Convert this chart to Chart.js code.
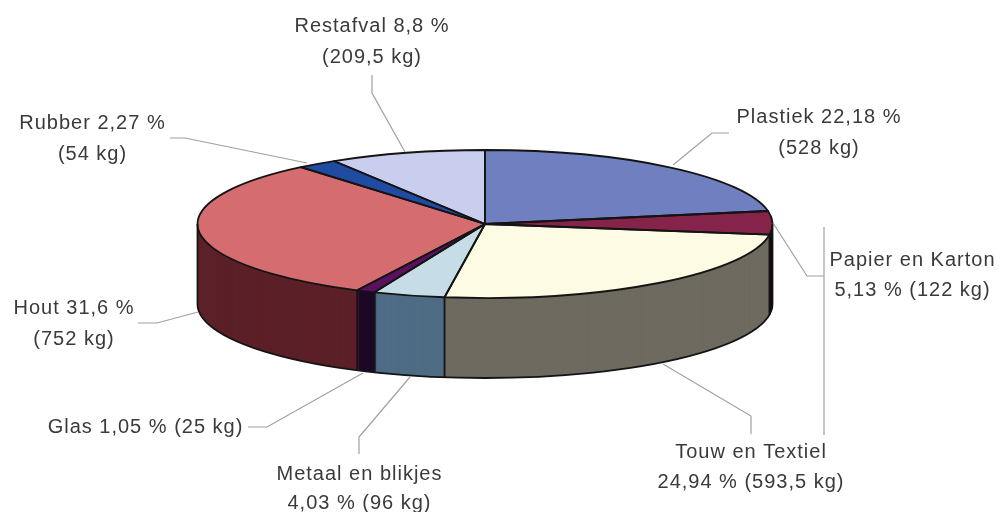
<!DOCTYPE html>
<html>
<head>
<meta charset="utf-8">
<style>html,body{margin:0;padding:0;background:#fff}canvas{display:block;filter:blur(0.4px)}</style>
<script src="https://cdn.jsdelivr.net/npm/chart.js@4"></script>
</head>
<body>
<canvas id="c" width="1001" height="512"></canvas>
<script>
const categories = ['Plastiek','Papier en Karton','Touw en Textiel','Metaal en blikjes','Glas','Hout','Rubber','Restafval'];
const kilograms = [528,122,593.5,96,25,752,54,209.5];
const labelFirstLines = ['Plastiek 22,18 %','Papier en Karton','Touw en Textiel','Metaal en blikjes','Glas 1,05 % (25 kg)','Hout 31,6 %','Rubber 2,27 %','Restafval 8,8 %'];
const labelSecondLines = ['(528 kg)','5,13 % (122 kg)','24,94 % (593,5 kg)','4,03 % (96 kg)','','(752 kg)','(54 kg)','(209,5 kg)'];
const topColors = ['#6f7fbf','#86234a','#fdfbe3','#c6dde8','#5c1060','#d46c70','#1f4ba0','#c9cdee'];
const sideColors = ['#3c4670','#140808','#6f6a60','#4f6c85','#1d0828','#5c2028','#102858','#70748c'];

// layout of the tilted pie
const PIE = {cx:485, cy:224, rx:287.5, ry:74, depth:80};
// annotation layout: [x, baseline1, baseline2]
const labelPos = [[819,123,154],[912.5,266,296],[751,458,488],[359.5,480,509],[145.5,433,0],[74,314,345],[92.5,129,160],[372,32,63]];
const leaders = [
  [[729,133],[712,133],[673,165]],
  [[824,276],[807,276],[773,223]],
  [[751,434],[751,416],[663,364]],
  [[359,454],[359,437],[410,377]],
  [[248,427],[267,427],[363,373]],
  [[138,323],[157,323],[198,312]],
  [[170,138],[185,138],[307,163]],
  [[372,75],[372,93],[405,152]],
  [[824,227],[824,435]]
];

const pie3d = {
  id:'pie3d',
  beforeDatasetDraw(chart, args){
    const ctx = chart.ctx, els = args.meta.data;
    const e0 = els[0], R = e0.outerRadius;
    const place = (dy)=>{
      ctx.setTransform(PIE.rx/R,0,0,PIE.ry/R,PIE.cx-e0.x*PIE.rx/R,PIE.cy+dy-e0.y*PIE.ry/R);
    };
    ctx.save();
    // side wall: the library's arcs stacked downward in side colours
    for(let d=PIE.depth;d>=1;d--){
      place(d);
      els.forEach((el,i)=>{
        const keep = el.options;
        el.options = {backgroundColor:sideColors[i],borderColor:sideColors[i],borderWidth:0,borderAlign:'center',spacing:0,offset:0,borderRadius:0,circular:true,borderJoinStyle:'round',borderDash:[],borderDashOffset:0};
        el.draw(ctx);
        el.options = keep;
      });
    }
    // top face
    place(0);
    els.forEach(el=>el.draw(ctx));
    ctx.restore();
    // outlines
    ctx.save();
    ctx.strokeStyle='#141414'; ctx.lineWidth=1.8; ctx.lineJoin='round';
    const {cx,cy,rx,ry,depth}=PIE;
    ctx.beginPath();
    ctx.moveTo(cx+rx,cy); ctx.lineTo(cx+rx,cy+depth);
    ctx.ellipse(cx,cy+depth,rx,ry,0,0,Math.PI);
    ctx.lineTo(cx-rx,cy);
    ctx.stroke();
    els.forEach(el=>{
      ctx.beginPath();
      ctx.moveTo(cx,cy);
      ctx.ellipse(cx,cy,rx,ry,0,el.startAngle,el.endAngle);
      ctx.closePath();
      ctx.stroke();
      const a=el.endAngle;
      if(Math.sin(a)>0){
        const x=cx+rx*Math.cos(a), y=cy+ry*Math.sin(a);
        ctx.beginPath(); ctx.moveTo(x,y); ctx.lineTo(x,y+depth); ctx.stroke();
      }
    });
    ctx.restore();
    return false;
  },
  afterDraw(chart){
    const ctx=chart.ctx;
    ctx.save();
    ctx.strokeStyle='#a0a0a0'; ctx.lineWidth=1.2;
    leaders.forEach(l=>{
      ctx.beginPath();
      l.forEach((p,i)=> i?ctx.lineTo(p[0],p[1]):ctx.moveTo(p[0],p[1]));
      ctx.stroke();
    });
    ctx.font='20px "Liberation Sans", Arial, sans-serif';
    ctx.letterSpacing='1px';
    ctx.fillStyle='#3a3a3a';
    ctx.textAlign='center';
    ctx.textBaseline='alphabetic';
    labelPos.forEach((p,i)=>{
      ctx.fillText(labelFirstLines[i],p[0],p[1]);
      if(labelSecondLines[i]) ctx.fillText(labelSecondLines[i],p[0],p[2]);
    });
    ctx.restore();
  }
};

new Chart(document.getElementById('c'),{
  type:'pie',
  data:{labels:categories,datasets:[{data:kilograms,backgroundColor:topColors,borderWidth:0}]},
  options:{
    responsive:false,animation:false,
    plugins:{legend:{display:false},tooltip:{enabled:false}},
    layout:{padding:0}
  },
  plugins:[pie3d]
});
</script>
</body>
</html>
